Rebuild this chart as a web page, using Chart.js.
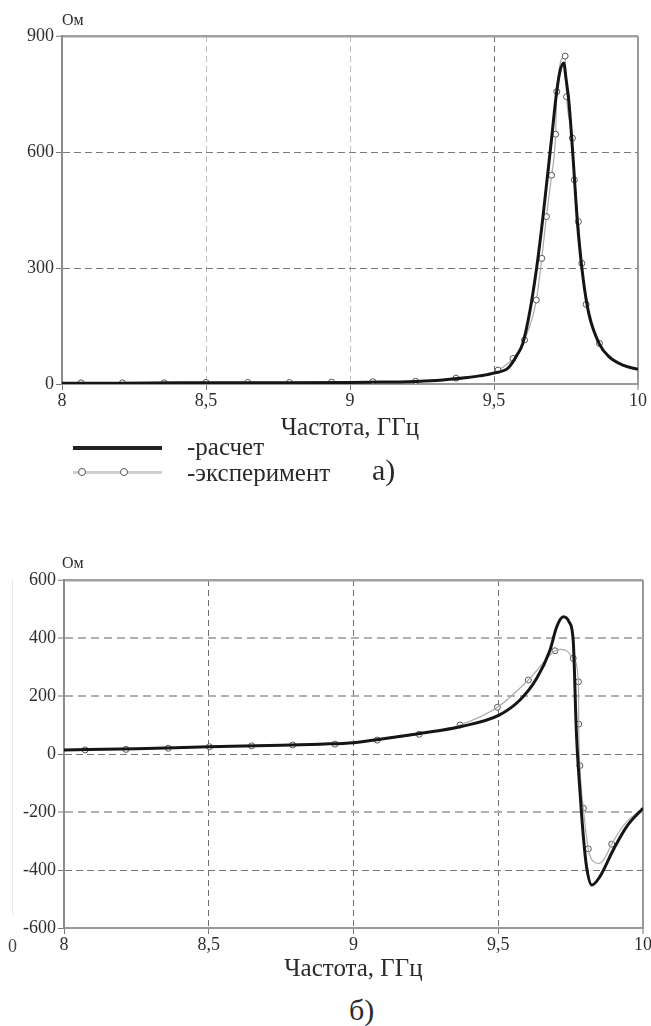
<!DOCTYPE html>
<html>
<head>
<meta charset="utf-8">
<script src="https://cdn.jsdelivr.net/npm/chart.js@4.4.1/dist/chart.umd.min.js"></script>
<style>
  body { margin: 0; background: #fff; width: 651px; height: 1026px; position: relative; overflow: hidden;
         font-family: "Liberation Serif", serif; color: #2a2a2a; }
  canvas { position: absolute; left: 0; }
  .t { position: absolute; white-space: nowrap; line-height: 1; }
  .ln { position: absolute; }
  .dot { position: absolute; width: 6px; height: 6px; border: 1.2px solid #555; border-radius: 50%; background: #fff; }
</style>
</head>
<body>
<canvas id="chartA" width="651" height="445" style="top:0"></canvas>
<canvas id="chartB" width="651" height="446" style="top:540px"></canvas>

<div class="t" style="left:62px; top:12px; font-size:16px">Ом</div>
<div class="ln" style="left:73px; top:446px; width:89px; height:4px; background:#222"></div>
<div class="t" style="left:187px; top:434px; font-size:25px">-расчет</div>
<div class="ln" style="left:73px; top:471px; width:89px; height:3px; background:#cfcfcf"></div>
<div class="dot" style="left:78px; top:468px"></div>
<div class="dot" style="left:120px; top:468px"></div>
<div class="t" style="left:187px; top:460px; font-size:25px">-эксперимент</div>
<div class="t" style="left:372px; top:455px; font-size:30px">а)</div>

<div class="t" style="left:62px; top:555px; font-size:16px">Ом</div>
<div class="ln" style="left:12px; top:580px; width:1px; height:335px; background:#e6e6e6"></div>
<div class="t" style="left:8px; top:937px; font-size:18px; color:#444">0</div>
<div class="t" style="left:349px; top:995px; font-size:30px">б)</div>

<script>
// оси
const ticksX = [8, 8.5, 9, 9.5, 10];
const ticksA = [0, 300, 600, 900];
const ticksB = [-600, -400, -200, 0, 200, 400, 600];

// а) расчет
const calcAf = [8.0, 8.2, 8.4, 8.6, 8.8, 9.0, 9.1, 9.2, 9.3, 9.4, 9.45, 9.5, 9.55, 9.58, 9.6, 9.625, 9.648, 9.665, 9.683, 9.70, 9.715, 9.728, 9.742, 9.75, 9.76, 9.775, 9.79, 9.81, 9.83, 9.866, 9.9, 9.95, 10.0];
const calcAv = [2, 2, 3, 3, 3, 4, 5, 6, 9, 16, 21, 28, 42, 75, 105, 190, 300, 400, 520, 635, 740, 805, 830, 790, 730, 580, 415, 270, 180, 103, 70, 48, 38];
// а) эксперимент
const expAf = [8.066, 8.21, 8.355, 8.5, 8.645, 8.79, 8.936, 9.079, 9.228, 9.368, 9.514, 9.566, 9.606, 9.647, 9.666, 9.682, 9.700, 9.714, 9.718, 9.747, 9.752, 9.772, 9.779, 9.793, 9.805, 9.82, 9.866];
const expAv = [3, 3, 3, 4, 4, 4, 5, 6, 7, 15, 36, 66, 114, 217, 325, 433, 540, 646, 756, 848, 743, 636, 528, 420, 312, 206, 105];

// б) расчет
const calcBf = [8.0, 8.25, 8.5, 8.75, 8.884, 9.0, 9.115, 9.23, 9.368, 9.503, 9.575, 9.633, 9.679, 9.702, 9.725, 9.745, 9.759, 9.77, 9.782, 9.794, 9.805, 9.823, 9.851, 9.897, 9.943, 10.0];
const calcBv = [14, 18, 25, 30, 34, 39, 54, 71, 94, 134, 186, 261, 359, 439, 473, 455, 390, 72, -124, -285, -389, -452, -423, -331, -251, -187];
// б) эксперимент: кривая и точки
const traceBf = [8.0, 8.073, 8.214, 8.36, 8.502, 8.648, 8.79, 8.936, 9.082, 9.227, 9.368, 9.497, 9.604, 9.696, 9.715, 9.74, 9.759, 9.777, 9.778, 9.782, 9.794, 9.811, 9.83, 9.85, 9.87, 9.892, 9.93, 9.97, 10.0];
const traceBv = [13, 14, 16, 20, 25, 28, 31, 34, 48, 68, 100, 161, 255, 356, 361, 353, 330, 249, 103, -40, -187, -327, -372, -377, -355, -311, -250, -210, -187];
const expBf = [8.073, 8.214, 8.36, 8.502, 8.648, 8.79, 8.936, 9.082, 9.227, 9.368, 9.497, 9.604, 9.696, 9.759, 9.777, 9.778, 9.782, 9.794, 9.811, 9.892];
const expBv = [14, 16, 20, 25, 28, 31, 34, 48, 68, 100, 161, 255, 356, 330, 249, 103, -40, -187, -327, -311];

const pts = (f, v) => f.map((x, i) => ({x: x, y: v[i]}));
const tickFont = {family: "Liberation Serif", size: 18};
const comma = v => String(v).replace('.', ',');

function calcSet(f, v) {
    return {data: pts(f, v), borderColor: '#151515', borderWidth: 3, pointRadius: 0,
            cubicInterpolationMode: 'monotone', fill: false};
}
function markSet(f, v, line, r) {
    return {data: pts(f, v), borderColor: '#a8a8a8', borderWidth: 1.2, showLine: line, tension: 0,
            cubicInterpolationMode: 'monotone',
            pointRadius: r, pointBorderColor: '#555', pointBorderWidth: 1, pointBackgroundColor: '#fff'};
}

function makeChart(id, datasets, yTicks, pad, yWidth, xHeight, gridY, gridX) {
    const xmax = ticksX[ticksX.length - 1];
    const ymax = yTicks[yTicks.length - 1];
    return new Chart(document.getElementById(id), {
        type: 'line',
        data: {datasets: datasets},
        options: {
            responsive: false,
            animation: false,
            layout: {padding: pad},
            plugins: {legend: {display: false}, tooltip: {enabled: false}},
            scales: {
                x: {
                    type: 'linear', min: ticksX[0], max: xmax,
                    afterBuildTicks: s => { s.ticks = ticksX.map(v => ({value: v})); },
                    afterFit: s => { s.height = xHeight; s.paddingLeft = 0; s.paddingRight = 0; },
                    ticks: {font: tickFont, color: '#2e2e2e', padding: 0, maxRotation: 0, autoSkip: false, callback: comma},
                    grid: {
                        color: c => c.tick && c.tick.value === xmax ? '#999' : gridX(c.tick ? c.tick.value : 0).color,
                        lineWidth: c => c.tick && c.tick.value === xmax ? 2 : 1,
                        tickLength: 6, tickColor: '#777', tickWidth: 1, tickBorderDash: []
                    },
                    border: {color: '#999', width: 2,
                             dash: c => c.tick && c.tick.value !== xmax ? [6, 4] : []},
                    title: {display: true, text: 'Частота, ГГц', color: '#2a2a2a',
                            font: {family: "Liberation Serif", size: 25}, padding: {top: 0, bottom: 2}}
                },
                y: {
                    min: yTicks[0], max: ymax,
                    afterBuildTicks: s => { s.ticks = yTicks.map(v => ({value: v})); },
                    afterFit: s => { s.width = yWidth; },
                    ticks: {font: tickFont, color: '#2e2e2e', padding: 2},
                    grid: {
                        color: c => c.tick && c.tick.value === ymax ? '#a0a0a0' : gridY(c.tick ? c.tick.value : 0).color,
                        lineWidth: c => c.tick && c.tick.value === ymax ? 2.5 : gridY(c.tick ? c.tick.value : 0).width,
                        tickLength: 6, tickColor: '#777', tickWidth: 1, tickBorderDash: []
                    },
                    border: {color: '#8c8c8c', width: 2,
                             dash: c => c.tick && c.tick.value !== ymax ? gridY(c.tick.value).dash : []}
                }
            }
        }
    });
}

makeChart('chartA',
    [calcSet(calcAf, calcAv), markSet(expAf, expAv, true, 3)],
    ticksA, {top: 36, right: 13, left: 0, bottom: 0}, 62, 61,
    v => ({color: '#7a7a7a', width: 1, dash: [7, 4]}),
    v => ({color: v === 9.5 ? '#707070' : '#bdbdbd'}));

makeChart('chartB',
    [calcSet(calcBf, calcBv), markSet(traceBf, traceBv, true, 0), markSet(expBf, expBv, false, 3)],
    ticksB, {top: 40, right: 8, left: 0, bottom: 0}, 64, 58,
    v => (v === 400 || v === 200 || v === -200)
        ? {color: '#b0b0b0', width: 2, dash: [8, 5]}
        : {color: '#777', width: 1, dash: [7, 4]},
    v => ({color: '#6e6e6e'}));
</script>
</body>
</html>
